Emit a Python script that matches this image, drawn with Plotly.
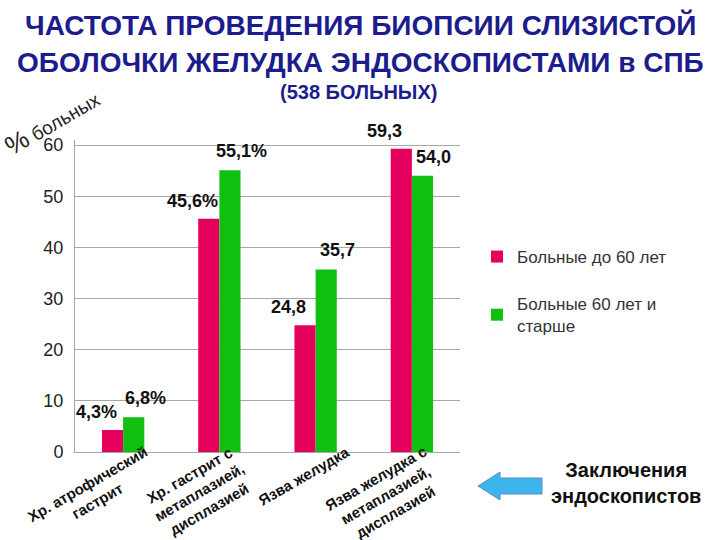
import plotly.graph_objects as go

categories = [
    "Хр. атрофический<br>гастрит",
    "Хр. гастрит с<br>метаплазией,<br>дисплазией",
    "Язва желудка",
    "Язва желудка с<br>метаплазией,<br>дисплазией",
]
under60 = [4.3, 45.6, 24.8, 59.3]
over60 = [6.8, 55.1, 35.7, 54.0]
under60_labels = ["4,3%", "45,6%", "24,8", "59,3"]
over60_labels = ["6,8%", "55,1%", "35,7", "54,0"]
series_names = ["Больные до 60 лет", "Больные 60 лет и<br>старше"]
y_ticks = [0, 10, 20, 30, 40, 50, 60]

W, H = 720, 540
L, R, T, B = 75, 260, 140, 88
PW, PH = W - L - R, H - T - B


def px(x, y):
    return (x - L) / PW, (H - B - y) / PH


PINK = "#E6005E"
GREEN = "#10C010"
NAVY = "#1C1C8C"
FONT = "Liberation Sans, Arial, sans-serif"

fig = go.Figure()
fig.add_trace(go.Bar(x=categories, y=under60, name=series_names[0],
                     marker=dict(color=PINK, line=dict(width=0)), legendgroup="a"))
fig.add_trace(go.Bar(x=categories, y=over60, name=series_names[1],
                     marker=dict(color=GREEN, line=dict(width=0)), legendgroup="b"))

ann = []
for c, v, t in zip(categories, under60, under60_labels):
    ann.append(dict(x=c, y=v, xref="x", yref="y", text="<b>" + t + "</b>", showarrow=False,
                    xanchor="center", yanchor="middle",
                    xshift=-27, yshift=18, font=dict(size=18, color="#111", family=FONT)))
for c, v, t in zip(categories, over60, over60_labels):
    ann.append(dict(x=c, y=v, xref="x", yref="y", text="<b>" + t + "</b>", showarrow=False,
                    xanchor="center", yanchor="middle",
                    xshift=22, yshift=19, font=dict(size=18, color="#111", family=FONT)))
for c in categories:
    ann.append(dict(x=c, y=0, xref="x", yref="y", text="<b>" + c + "</b>", showarrow=False,
                    textangle=-30, align="center", xanchor="right", yanchor="top",
                    xshift=40, yshift=12, font=dict(size=15, color="#111", family=FONT)))

t1x, t1y = px(360, 25)
t2x, t2y = px(360, 62)
ann.append(dict(x=t1x, y=t1y, xref="paper", yref="paper", showarrow=False,
                xanchor="center", yanchor="middle",
                text="<b>ЧАСТОТА ПРОВЕДЕНИЯ БИОПСИИ СЛИЗИСТОЙ</b>",
                font=dict(size=28, color=NAVY, family=FONT)))
ann.append(dict(x=t2x, y=t2y, xref="paper", yref="paper", showarrow=False,
                xanchor="center", yanchor="middle",
                text="<b>ОБОЛОЧКИ ЖЕЛУДКА ЭНДОСКОПИСТАМИ в СПБ</b>",
                font=dict(size=28, color=NAVY, family=FONT)))

ax, ay = px(52, 122)
ann.append(dict(x=ax, y=ay, xref="paper", yref="paper", showarrow=False, textangle=-30,
                xanchor="center", yanchor="middle",
                text="<span style='font-size:26px'>%</span> больных",
                font=dict(size=19, color="#222", family=FONT)))
sx, sy = px(358, 92)
ann.append(dict(x=sx, y=sy, xref="paper", yref="paper", showarrow=False,
                xanchor="center", yanchor="middle",
                text="<b>(538 БОЛЬНЫХ)</b>", font=dict(size=20, color=NAVY, family=FONT)))
zx, zy = px(626, 483)
ann.append(dict(x=zx, y=zy, xref="paper", yref="paper", showarrow=False,
                xanchor="center", yanchor="middle",
                text="<b>Заключения<br>эндоскопистов</b>",
                font=dict(size=20, color="#111", family=FONT)))

pts = [(478, 486), (500, 472), (500, 478), (542, 478), (542, 494), (500, 494), (500, 500)]
path = "M " + " L ".join("%.4f,%.4f" % px(x, y) for x, y in pts) + " Z"
shapes = [dict(type="path", path=path, xref="paper", yref="paper",
               fillcolor="#3CB4EC", line=dict(color="#5A8FC8", width=1))]

lx, ly = px(477, 239)
fig.update_layout(
    width=W, height=H,
    margin=dict(l=L, r=R, t=T, b=B, autoexpand=False),
    paper_bgcolor="white", plot_bgcolor="white",
    font=dict(family=FONT, color="#222"),
    showlegend=True,
    barmode="group", bargap=0.56, bargroupgap=0.0,
    xaxis=dict(showticklabels=False, showgrid=False, showline=True, linecolor="#A8A8A8",
               ticks="", zeroline=False, range=[-0.5, len(categories) - 0.5]),
    yaxis=dict(range=[0, 61], tickvals=y_ticks, showgrid=True, gridcolor="#A8A8A8",
               showline=True, linecolor="#A8A8A8", zeroline=False, ticklabelstandoff=7,
               tickfont=dict(size=18, color="#222", family=FONT), ticks=""),
    legend=dict(x=lx, y=ly, xanchor="left", yanchor="top", tracegroupgap=22,
                font=dict(size=17, color="#333", family=FONT), bgcolor="rgba(0,0,0,0)"),
    annotations=ann, shapes=shapes,
)
fig.write_html("out.html", config={"displayModeBar": False},
               post_script="document.body.style.margin='0';")
